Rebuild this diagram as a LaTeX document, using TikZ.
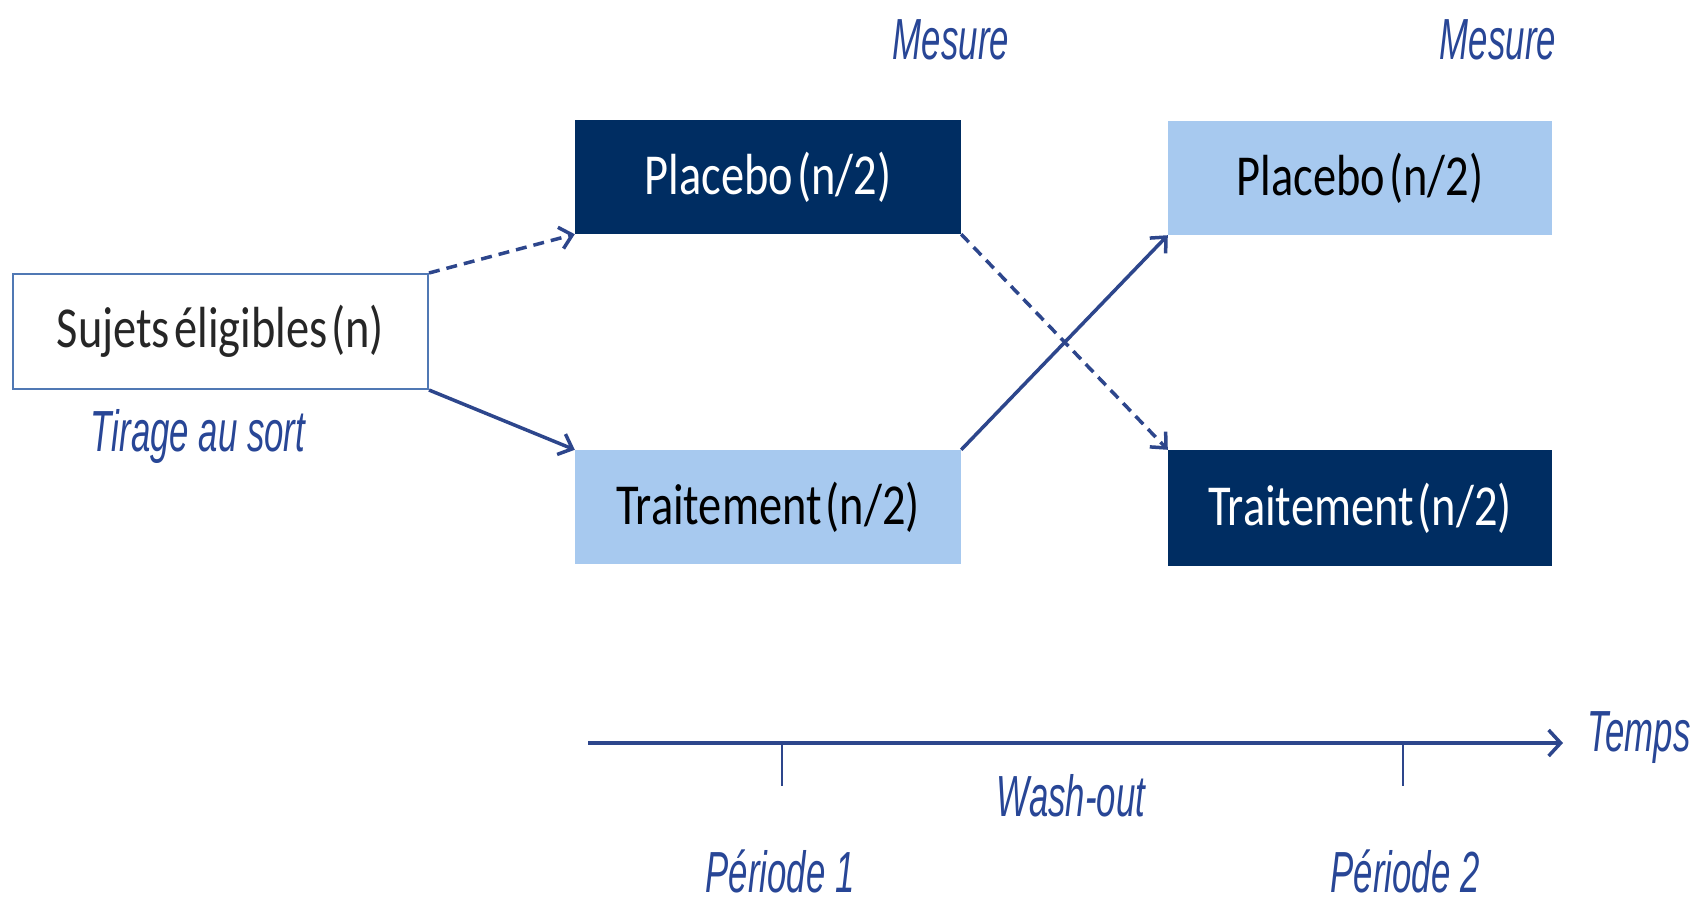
\documentclass[tikz,border=0pt]{standalone}
\usepackage{fontspec}
\setmainfont{Carlito}
\newfontfamily\boxfont{Carlito}[FakeStretch=0.8,WordSpace=0.4]
\newfontfamily\labfont{Liberation Sans}[FakeStretch=0.6]
\usetikzlibrary{arrows.meta}
\definecolor{navy}{RGB}{0,45,98}
\definecolor{lightb}{RGB}{167,201,239}
\definecolor{labcol}{RGB}{40,70,150}
\definecolor{arrcol}{RGB}{45,70,140}
\definecolor{bordcol}{RGB}{80,120,180}
\tikzset{
  boxbase/.style={rectangle, inner sep=0pt, font=\boxfont\fontsize{58bp}{60bp}\selectfont},
  darkbox/.style={boxbase, fill=navy, text=white},
  lightbox/.style={boxbase, fill=lightb, text=black},
  whitebox/.style={boxbase, draw=bordcol, line width=2bp, fill=white, text=black!85},
  lab/.style={inner sep=0pt, text=labcol, font=\labfont\itshape\fontsize{58bp}{60bp}\selectfont},
  conn/.style={draw=arrcol, line width=3.5bp, -{Straight Barb[length=12bp,width=22bp,line width=3.5bp]}},
  dashconn/.style={conn, dash pattern=on 11bp off 7bp},
}
\begin{document}
\begin{tikzpicture}[x=1bp,y=-1bp]
\useasboundingbox (0,0) rectangle (1708,903);
\node[whitebox, minimum width=415bp, minimum height=115bp] (suj) at (220.5,331.5) {Sujets éligibles (n)};
\node[darkbox, minimum width=386bp, minimum height=114bp] (p1) at (768,177) {Placebo (n/2)};
\node[lightbox, minimum width=386bp, minimum height=114bp] (t1) at (768,507) {Traitement (n/2)};
\node[lightbox, minimum width=384bp, minimum height=114bp] (p2) at (1360,178) {Placebo (n/2)};
\node[darkbox, minimum width=384bp, minimum height=116bp] (t2) at (1360,508) {Traitement (n/2)};

\node[lab] (m1) at (951,40) {Mesure};
\node[lab] (m2) at (1498,40) {Mesure};
\node[lab] (tir) at (198,436) {Tirage au sort};

\draw[dashconn] (suj.north east) -- (p1.south west);
\draw[conn] (suj.south east) -- (t1.north west);
\draw[conn] (t1.north east) -- (p2.south west);
\draw[dashconn] (p1.south east) -- (t2.north west);

\coordinate (ta) at (588,743);
\coordinate (tb) at (1563,743);
\coordinate (k1a) at (782,743);
\coordinate (k1b) at (782,786);
\coordinate (k2a) at (1403,743);
\coordinate (k2b) at (1403,786);
\draw[draw=arrcol, line width=4.5bp, -{Straight Barb[length=12bp,width=26bp,line width=3.5bp]}] (ta) -- (tb);
\draw[draw=arrcol, line width=2.5bp] (k1a) -- (k1b);
\draw[draw=arrcol, line width=2.5bp] (k2a) -- (k2b);

\node[lab] (temps) at (1639,738) {Temps};
\node[lab] (wash) at (1071,796) {Wash-out};
\node[lab] (per1) at (780,871) {Période 1};
\node[lab] (per2) at (1405,871) {Période 2};
\end{tikzpicture}
\end{document}
